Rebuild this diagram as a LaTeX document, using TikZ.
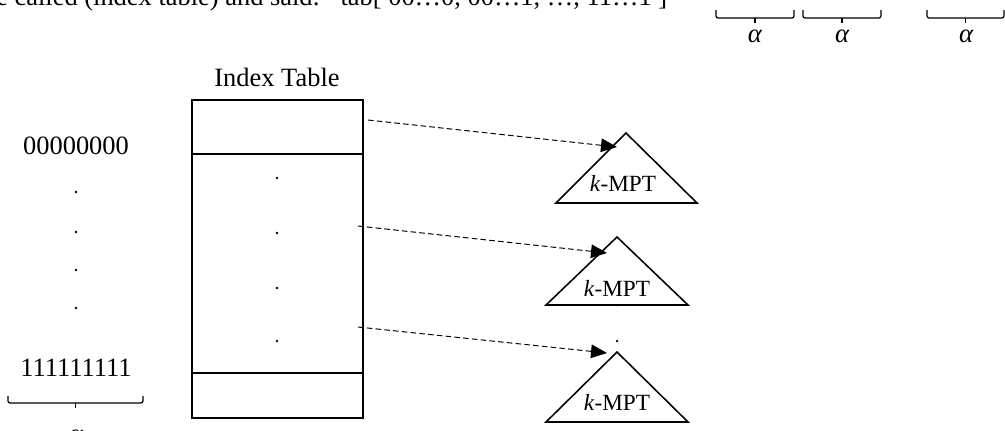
\documentclass[tikz,border=0pt]{standalone}
\usepackage{fontspec}
\setmainfont{Liberation Serif}
\usepackage{tikz}
\usetikzlibrary{positioning,arrows.meta,calc}
\tikzset{
  cell-box/.style={draw,line width=1.6pt,minimum width=4.275cm,inner sep=0pt},
  tree-tri/.style={draw,line width=1.1pt,line join=miter},
  tree-label/.style={font=\fontsize{16.5}{19}\selectfont,inner sep=0pt},
  arrow-ptr/.style={-{Triangle[length=4mm,width=3.4mm]},dashed,
    dash pattern=on 1.4mm off 0.8mm,line width=0.7pt},
  key-brace/.style={line width=0.9pt,rounded corners=1.5pt},
  brace-tick/.style={line width=1.4pt},
  alpha-label/.style={font=\fontsize{19}{22}\selectfont\itshape,inner sep=0pt},
  small-dot/.style={circle,fill,inner sep=0pt,minimum size=1.8pt},
}

\begin{document}
\begin{tikzpicture}[x=0.025cm,y=-0.025cm,font=\fontsize{18.8}{22}\selectfont]
  \useasboundingbox (0,0) rectangle (1005,430);

  % caption line running off the top
  \node[anchor=base west,inner sep=0pt] (cap) at (-4,5)
    {e called (index table) and said: ``tab[ 00…0, 00…1, …, 11…1 ]''};

  % key split into alpha-bit parts
  \coordinate (k1a) at (716,18); \coordinate (k1b) at (794,18);
  \coordinate (k2a) at (803,18); \coordinate (k2b) at (881,18);
  \coordinate (k3a) at (927,18); \coordinate (k3b) at (1004,18);
  \foreach \a/\b in {k1a/k1b,k2a/k2b,k3a/k3b}{
    \draw[key-brace] (\a) ++(0,-8) -- (\a) -- (\b) -- ++(0,-8);
    \draw[brace-tick] ($(\a)!0.5!(\b)$) -- ++(0,5);
  }
  \node[alpha-label] (al1) at (755,36) {α};
  \node[alpha-label] (al2) at (842,36) {α};
  \node[alpha-label] (al3) at (966,36) {α};

  % prefixes
  \node (pfirst) at (76,146) {00000000};
  \foreach \y [count=\i] in {192,232,270,308}
    \node[small-dot] (pdot\i) at (76,\y) {};
  \node (plast) at (76,368) {111111111};
  \coordinate (pbl) at (8,403); \coordinate (pbr) at (143,403);
  \draw[key-brace] (pbl) ++(0,-7) -- (pbl) -- (pbr) -- ++(0,-7);
  \draw[brace-tick] ($(pbl)!0.5!(pbr)$) -- ++(0,5);
  \node[alpha-label] (alp) at (76,436) {α};

  % index table
  \node (title) at (277,77) {Index Table};
  \node[cell-box,minimum height=1.35cm] (top) at (277.5,127) {};
  \node[cell-box,minimum height=5.475cm] (mid) at (277.5,263.5) {};
  \node[cell-box,minimum height=1.125cm] (bot) at (277.5,395.5) {};
  \foreach \y [count=\i] in {178,233,288,341}
    \node[small-dot] (tdot\i) at (277,\y) {};

  % k-MPT subtrees
  \draw[tree-tri] (626,133) coordinate (apx1) -- (697,203) -- (556,203) -- cycle;
  \draw[tree-tri] (617,237) coordinate (apx2) -- (688,305) -- (546,305) -- cycle;
  \draw[tree-tri] (617,352) coordinate (apx3) -- (688,422) -- (546,422) -- cycle;
  \node[tree-label] (mpt1) at (623,183) {\textit{k}-MPT};
  \node[tree-label] (mpt2) at (617,288) {\textit{k}-MPT};
  \node[tree-label] (mpt3) at (617,402) {\textit{k}-MPT};
  \node[small-dot] (sdot1) at (617,305) {};
  \node[small-dot] (sdot2) at (617,341) {};

  % pointers
  \coordinate (src1) at (368,120);
  \coordinate (src2) at (358,226);
  \coordinate (src3) at (358,327);
  \coordinate (dst1) at (617,147);
  \coordinate (dst2) at (607,253);
  \coordinate (dst3) at (607,353);
  \draw[arrow-ptr] (src1) -- (dst1);
  \draw[arrow-ptr] (src2) -- (dst2);
  \draw[arrow-ptr] (src3) -- (dst3);
\end{tikzpicture}
\end{document}
